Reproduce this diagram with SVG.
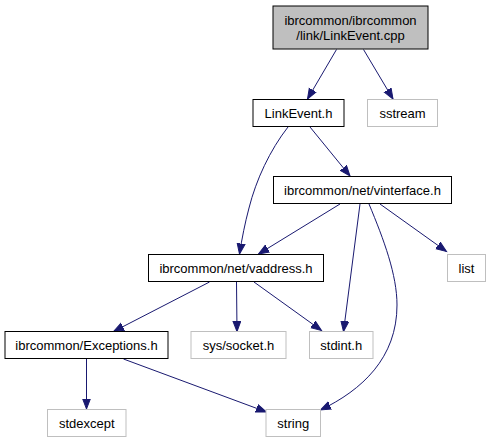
<svg xmlns="http://www.w3.org/2000/svg" width="491" height="443" viewBox="0 0 491 443">
<style>
.n rect{fill:#ffffff;stroke:#000000;stroke-width:1}
.s rect{fill:#ffffff;stroke:#bfbfbf;stroke-width:1}
.top rect{fill:#bfbfbf;stroke:#000000;stroke-width:1}
text{font-family:"Liberation Sans",Arial,sans-serif;font-size:13px;text-anchor:middle;fill:#000000}
#edges path{fill:none;stroke:#191970;stroke-width:1;marker-end:url(#arr)}
</style>
<defs>
<marker id="arr" markerWidth="12" markerHeight="10" refX="10.5" refY="4.5" orient="auto" markerUnits="userSpaceOnUse">
<path d="M0,0.5 L10.5,4.5 L0,8.5 z" fill="#191970" stroke="#191970" stroke-width="1"/>
</marker>
</defs>
<rect x="0" y="0" width="491" height="443" fill="#ffffff"/>
<g id="edges">
<path d="M336.5,49.5 L307.5,99"/>
<path d="M363.5,49.5 L393,99"/>
<path d="M288,127 C270,150 256,180 249,208 C245,223 242,238 239.5,254"/>
<path d="M310,127 L350,176"/>
<path d="M340,204 L258.5,254"/>
<path d="M360,204 L343.5,331.5"/>
<path d="M369,204 C384,240 397,275 397,305 C397,358 362,390 320.5,410"/>
<path d="M380,204 L446.5,251.5"/>
<path d="M209.5,282 L113.5,331.5"/>
<path d="M236.5,282 L237,331.5"/>
<path d="M254,282 L321.5,330.5"/>
<path d="M86.5,359 L86.5,409"/>
<path d="M123.5,359 L266.5,412"/>
</g>
<g id="node-linkevent-cpp" class="top"><rect x="273" y="6" width="155" height="43"/><text x="350.5" y="24.5">ibrcommon/ibrcommon</text><text x="350.5" y="39.5">/link/LinkEvent.cpp</text></g>
<g id="node-linkevent-h" class="n"><rect x="253" y="99.5" width="91" height="27"/><text x="298.5" y="117.5">LinkEvent.h</text></g>
<g id="node-sstream" class="s"><rect x="367.5" y="99.5" width="70" height="27"/><text x="402.5" y="117.5">sstream</text></g>
<g id="node-vinterface" class="n"><rect x="273.5" y="176.5" width="178" height="27"/><text x="362.5" y="194.5">ibrcommon/net/vinterface.h</text></g>
<g id="node-vaddress" class="n"><rect x="148.5" y="254.5" width="175" height="27"/><text x="236" y="272.5">ibrcommon/net/vaddress.h</text></g>
<g id="node-list" class="s"><rect x="447.5" y="254.5" width="38" height="27"/><text x="466.5" y="272.5">list</text></g>
<g id="node-exceptions" class="n"><rect x="5" y="331.5" width="163" height="27"/><text x="86.5" y="349.5">ibrcommon/Exceptions.h</text></g>
<g id="node-socket" class="s"><rect x="191" y="331.5" width="95" height="27"/><text x="238.5" y="349.5">sys/socket.h</text></g>
<g id="node-stdint" class="s"><rect x="309.5" y="331.5" width="63.5" height="27"/><text x="341.25" y="349.5">stdint.h</text></g>
<g id="node-stdexcept" class="s"><rect x="47.5" y="409.5" width="78.5" height="27"/><text x="86.75" y="427.5">stdexcept</text></g>
<g id="node-string" class="s"><rect x="266" y="409.5" width="54.5" height="27"/><text x="293.25" y="427.5">string</text></g>
</svg>
